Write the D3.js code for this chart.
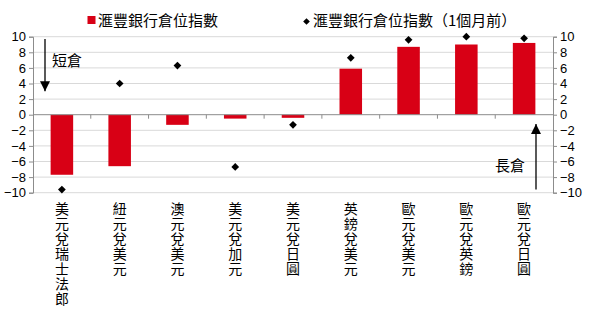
<!DOCTYPE html>
<html><head><meta charset="utf-8">
<script src="https://cdn.jsdelivr.net/npm/d3@7"></script>
<style>
body{margin:0;background:#fff;}
svg{display:block;}
text{font-family:"Liberation Sans",Arial,sans-serif;}
.cjk{font-family:"Noto Sans CJK TC","Noto Sans CJK SC",sans-serif;}
</style></head>
<body><svg id="c" width="589" height="316"></svg>
<script>
const categories = ["美元兌瑞士法郎","紐元兌美元","澳元兌美元","美元兌加元","美元兌日圓","英鎊兌美元","歐元兌美元","歐元兌英鎊","歐元兌日圓"];
const currentIndex = [-7.7,-6.6,-1.3,-0.5,-0.4,5.9,8.7,9.0,9.2];
const monthAgoIndex = [-9.6,4.0,6.3,-6.7,-1.3,7.3,9.6,10.0,9.8];
const yTicks = [-10,-8,-6,-4,-2,0,2,4,6,8,10];
const seriesNames = ["滙豐銀行倉位指數","滙豐銀行倉位指數（1個月前）"];

const svg = d3.select("#c");
const L = 33, R = 553, T = 36.7, B = 192.7;
const x = d3.scaleBand().domain(categories).range([L,R]).paddingInner(0.61).paddingOuter(0.305);
const xb = d3.scaleBand().domain(categories).range([L,R]).padding(0);
const y = d3.scaleLinear().domain([-10,10]).range([B,T]);
const red = "#d80015", axisCol = "#8c8c8c", gridCol = "#d9d9d9";

// gridlines
svg.append("g").selectAll("line").data(yTicks.filter(d=>d!==0)).join("line")
  .attr("x1",L).attr("x2",R).attr("y1",d=>y(d)).attr("y2",d=>y(d))
  .attr("stroke",gridCol).attr("stroke-width",1);

// axes
const ga = svg.append("g").attr("transform",`translate(${L},0)`)
  .call(d3.axisLeft(y).tickValues(yTicks).tickSize(4).tickPadding(3));
const gb = svg.append("g").attr("transform",`translate(${R},0)`)
  .call(d3.axisRight(y).tickValues(yTicks).tickSize(4).tickPadding(3));
[ga,gb].forEach(g=>{
  g.select(".domain").attr("stroke",axisCol);
  g.selectAll(".tick line").attr("stroke",axisCol);
  g.selectAll(".tick text").attr("font-size",13).attr("fill","#000")
   .attr("font-family",'"Liberation Sans",Arial,sans-serif');
});

// bars
svg.append("g").selectAll("rect").data(categories).join("rect")
  .attr("x",d=>x(d)).attr("width",x.bandwidth())
  .attr("y",(d,i)=>y(Math.max(0,currentIndex[i])))
  .attr("height",(d,i)=>Math.abs(y(currentIndex[i])-y(0)))
  .attr("fill",red);

// zero axis with category ticks
svg.append("line").attr("x1",L).attr("x2",R).attr("y1",y(0)).attr("y2",y(0))
  .attr("stroke",axisCol).attr("stroke-width",1);
svg.append("g").selectAll("line").data(categories.slice(1)).join("line")
  .attr("x1",d=>xb(d)).attr("x2",d=>xb(d)).attr("y1",y(0)).attr("y2",y(0)+4)
  .attr("stroke",axisCol);

// diamonds (rotated squares)
const sym = d3.symbol().type(d3.symbolSquare).size(30);
svg.append("g").selectAll("path").data(categories).join("path")
  .attr("d",sym)
  .attr("transform",(d,i)=>`translate(${x(d)+x.bandwidth()/2},${y(monthAgoIndex[i])}) rotate(45)`)
  .attr("fill","#000");

// category labels (vertical, one character per line)
const lab = svg.append("g").selectAll("text").data(categories).join("text")
  .attr("class","cjk").attr("font-size",14).attr("fill","#000")
  .attr("text-anchor","middle");
lab.each(function(d){
  const t = d3.select(this);
  const cx = x(d)+x.bandwidth()/2;
  [...d].forEach((ch,k)=>{
    t.append("tspan").attr("x",cx).attr("y",214+k*15).text(ch);
  });
});

// legend
svg.append("rect").attr("x",87.5).attr("y",16).attr("width",8).attr("height",8).attr("fill",red);
svg.append("text").attr("class","cjk").attr("x",98).attr("y",26).attr("font-size",15).text(seriesNames[0]);
svg.append("path").attr("d",d3.symbol().type(d3.symbolSquare).size(22))
  .attr("transform","translate(306.5,21.5) rotate(45)");
svg.append("text").attr("class","cjk").attr("x",313).attr("y",26).attr("font-size",15).text(seriesNames[1]);

// annotations
const defs = svg.append("defs");
defs.append("marker").attr("id","ah").attr("viewBox","0 0 10 10").attr("refX",10).attr("refY",5)
  .attr("markerWidth",10).attr("markerHeight",10).attr("markerUnits","userSpaceOnUse").attr("orient","auto")
  .append("path").attr("d","M0,0 L10,5 L0,10 z").attr("fill","#000");
svg.append("line").attr("x1",45).attr("y1",y(9.7)).attr("x2",45).attr("y2",y(3))
  .attr("stroke","#000").attr("stroke-width",1.3).attr("marker-end","url(#ah)");
svg.append("text").attr("class","cjk").attr("x",52).attr("y",66).attr("font-size",15).text("短倉");
svg.append("line").attr("x1",536).attr("y1",y(-9.6)).attr("x2",536).attr("y2",y(-1.2))
  .attr("stroke","#000").attr("stroke-width",1.3).attr("marker-end","url(#ah)");
svg.append("text").attr("class","cjk").attr("x",495).attr("y",171).attr("font-size",15).text("長倉");
</script></body></html>
